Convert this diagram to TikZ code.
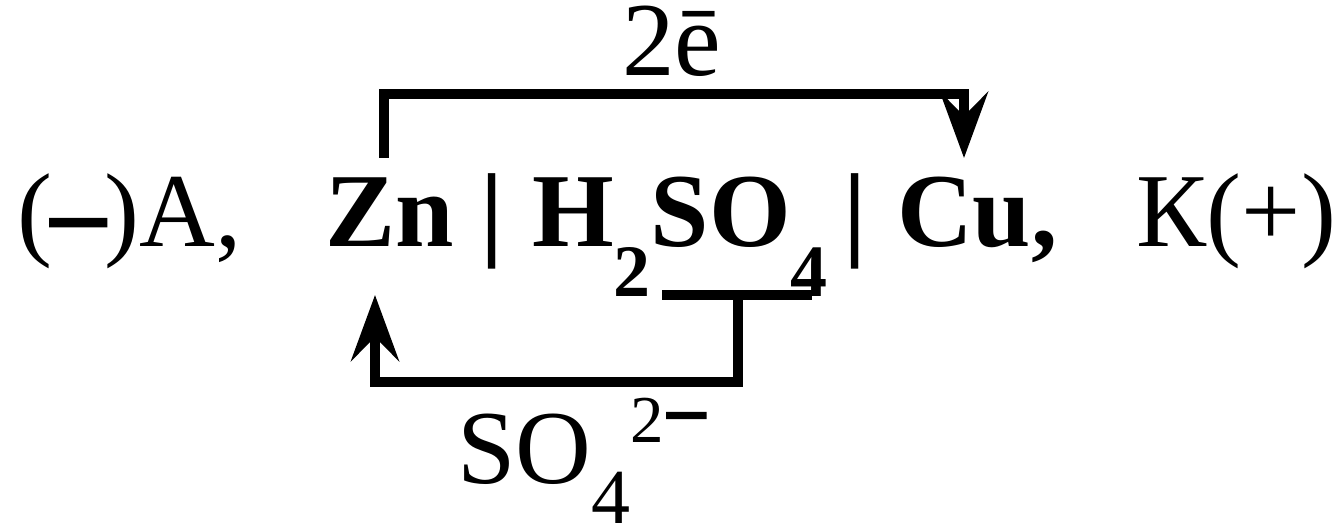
\documentclass[tikz,border=0pt]{standalone}
\usepackage{fontspec}
\setmainfont{Liberation Serif}
\usepackage{tikz}
\usetikzlibrary{arrows.meta}

\newcommand{\lowidx}[1]{\raisebox{-50pt}{\fontsize{74pt}{74pt}\selectfont #1}}
\newcommand{\thickdash}[1]{{\addfontfeature{FakeBold=4}#1}}

\begin{document}
\begin{tikzpicture}[
  x=1pt, y=-1pt,
  font=\fontsize{105pt}{105pt}\selectfont,
  txt/.style={inner sep=0pt, outer sep=0pt},
  heavy/.style={txt, font=\fontsize{105pt}{105pt}\selectfont\bfseries},
  bracket/.style={line width=9.5pt, line join=miter},
  flow/.style={bracket, -{Stealth[length=66pt, width=48pt, inset=24pt]}}
]
  \useasboundingbox (0,0) rectangle (1343,526);

  \node[txt, anchor=base west] (anode) at (17,247) {(\thickdash{–})А,};
  \node[heavy, anchor=base west] (zn) at (325,247) {Zn};
  \node[heavy, anchor=base] (sepa) at (492,247) {|};
  \node[heavy, anchor=base west] (acid) at (532,247) {H\lowidx{2}SO\lowidx{4}};
  \node[heavy, anchor=base] (sepb) at (855,247) {|};
  \node[heavy, anchor=base west] (cu) at (897,247) {Cu,};
  \node[txt, anchor=base east] (cathode) at (1336,247) {К(+)};

  \node[txt, anchor=base west] (electrons) at (622,76) {2ē};
  \node[txt, anchor=base west] (sulfate) at (457,483)
    {SO\raisebox{-40pt}{\fontsize{78pt}{78pt}\selectfont 4}\raisebox{41pt}{\fontsize{67pt}{67pt}\selectfont 2\fontsize{80pt}{80pt}\selectfont\thickdash{−}}};

  \coordinate (zntop) at (384,158);
  \coordinate (cutop) at (964,158);
  \coordinate (znbot) at (375,295);
  \coordinate (barl) at (662,295);
  \coordinate (barr) at (812,295);
  \coordinate (barmid) at (738,295);

  \draw[flow] (zntop) -- (zntop |- 0,94) -- (cutop |- 0,94) -- (cutop);
  \draw[bracket] (barl) -- (barr);
  \draw[flow] (barmid) -- (barmid |- 0,382) -- (znbot |- 0,382) -- (znbot);
\end{tikzpicture}
\end{document}
